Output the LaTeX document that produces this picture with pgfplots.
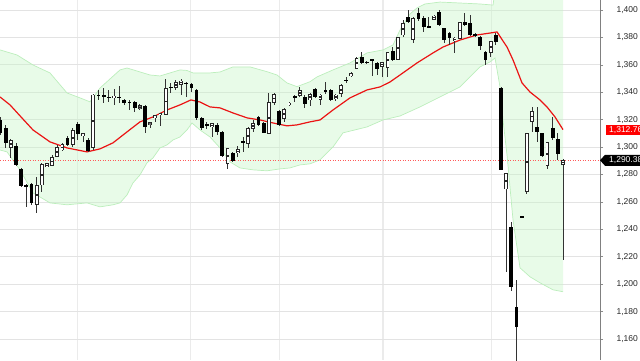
\documentclass[border=0pt]{standalone}
\usepackage{fontspec}
\setmainfont{Liberation Sans}
\usepackage{pgfplots}
\usepackage{pgfplotstable}
\pgfplotsset{compat=1.18}
\usepgfplotslibrary{fillbetween}

\definecolor{bandfill}{RGB}{200,245,200}
\definecolor{bandline}{RGB}{188,238,188}
\definecolor{maline}{RGB}{235,20,20}
\definecolor{lastline}{RGB}{255,90,90}

% black (falling) candles: index, open, high, low, close
\pgfplotstableread{
i o h l c
0 1319.8 1322.0 1308.9 1310.6
1 1313.8 1316.2 1299.2 1302.8
3 1300.9 1302.8 1286.3 1287.0
4 1283.9 1284.6 1271.2 1271.7
5 1272.4 1273.0 1256.6 1271.0
6 1273.2 1273.6 1257.9 1259.1
13 1306.5 1308.2 1300.5 1301.6
15 1316.9 1318.6 1305.2 1309.6
17 1305.2 1306.5 1296.7 1297.5
19 1338.2 1341.7 1334.4 1337.5
20 1338.0 1342.9 1332.0 1336.8
21 1336.7 1341.7 1333.2 1336.0
23 1336.8 1344.6 1332.0 1336.1
24 1334.4 1334.9 1330.8 1332.0
25 1333.2 1334.4 1327.1 1332.0
26 1333.2 1333.7 1325.9 1328.4
28 1330.0 1330.4 1310.1 1314.9
33 1344.1 1346.6 1339.3 1342.9
36 1347.0 1347.7 1336.8 1345.9
37 1345.9 1346.6 1340.5 1343.4
38 1341.7 1342.2 1319.8 1321.1
39 1321.3 1321.7 1312.5 1313.6
40 1316.9 1318.6 1313.0 1315.7
42 1316.2 1317.4 1308.9 1311.3
43 1311.3 1311.4 1293.1 1293.6
45 1296.0 1296.2 1289.4 1289.9
47 1304.4 1307.6 1296.7 1303.7
50 1321.8 1322.7 1315.5 1316.2
51 1317.9 1318.6 1310.1 1310.1
54 1326.6 1327.1 1315.5 1316.0
57 1337.2 1338.0 1333.2 1336.5
59 1336.8 1338.0 1328.4 1331.5
61 1342.2 1342.9 1335.6 1336.4
63 1341.3 1347.7 1338.8 1340.6
64 1341.7 1342.2 1333.9 1334.4
67 1349.3 1350.9 1347.0 1348.6
70 1366.0 1369.2 1360.4 1361.2
71 1362.3 1362.8 1360.6 1361.2
72 1364.2 1364.4 1351.9 1363.5
73 1361.2 1362.3 1352.6 1357.0
76 1370.1 1373.3 1363.1 1363.6
79 1395.1 1400.0 1390.8 1391.5
81 1397.6 1401.2 1392.2 1393.2
82 1393.9 1395.6 1384.2 1387.4
83 1388.2 1394.7 1386.7 1387.5
85 1398.8 1400.0 1388.3 1389.1
86 1386.7 1386.9 1375.7 1378.1
87 1383.0 1384.2 1374.5 1379.4
90 1391.5 1397.6 1388.3 1389.1
91 1390.3 1396.4 1381.0 1381.8
92 1382.3 1383.0 1380.5 1381.0
93 1380.5 1381.0 1370.9 1373.8
94 1369.6 1370.1 1359.9 1363.6
96 1381.8 1383.5 1374.5 1376.9
97 1343.1 1343.5 1283.0 1283.4
99 1242.0 1245.7 1194.7 1198.3
100 1183.7 1203.2 1140.0 1169.1
101 1249.4 1249.5 1248.8 1248.9
104 1314.9 1329.5 1304.0 1311.3
105 1310.1 1310.6 1293.1 1293.6
107 1313.8 1321.8 1305.2 1306.5
108 1306.0 1310.1 1290.7 1294.8
}\downc

% white (rising) candles: index, open, high, low, close
\pgfplotstableread{
i o h l c
2 1299.9 1305.8 1291.9 1304.5
7 1258.4 1278.5 1251.8 1272.2
8 1272.4 1288.3 1267.6 1287.0
9 1285.8 1288.7 1285.3 1287.8
10 1286.5 1294.3 1286.0 1292.6
11 1293.1 1301.6 1292.5 1300.0
12 1297.9 1303.1 1297.2 1301.6
14 1301.6 1313.8 1300.4 1312.0
16 1308.4 1310.6 1304.0 1310.1
18 1299.9 1338.4 1297.9 1338.0
22 1336.2 1342.2 1330.8 1337.1
27 1328.4 1331.3 1327.1 1330.3
29 1316.2 1318.6 1313.8 1318.1
30 1321.5 1323.5 1318.6 1322.7
31 1323.5 1324.7 1315.5 1324.2
32 1323.5 1349.5 1323.1 1342.9
34 1343.7 1349.0 1341.7 1347.0
35 1345.9 1349.5 1338.0 1348.2
41 1314.9 1317.4 1307.6 1316.9
44 1288.3 1299.2 1283.9 1298.7
46 1296.3 1300.9 1293.1 1298.5
48 1302.8 1314.5 1299.2 1313.8
49 1313.8 1319.8 1311.3 1317.4
52 1310.1 1339.3 1310.0 1332.4
53 1332.4 1339.3 1330.8 1338.5
55 1321.1 1328.4 1318.6 1327.6
56 1330.8 1332.9 1330.3 1332.0
58 1337.5 1344.1 1336.8 1341.3
60 1334.4 1339.3 1330.0 1338.6
62 1334.9 1338.6 1330.8 1338.0
65 1335.1 1338.6 1333.9 1338.0
66 1338.8 1345.9 1336.8 1344.8
68 1351.9 1355.0 1351.4 1353.9
69 1357.5 1365.5 1356.8 1364.8
74 1358.7 1362.3 1351.4 1361.9
75 1358.0 1369.6 1350.9 1368.9
77 1364.1 1380.5 1363.6 1380.1
78 1381.8 1392.4 1380.0 1390.3
80 1378.6 1395.1 1376.2 1393.9
84 1393.4 1396.4 1393.2 1395.6
88 1378.1 1380.5 1368.4 1379.4
89 1379.4 1391.5 1378.6 1390.8
95 1369.2 1377.6 1366.0 1376.9
98 1269.5 1281.2 1209.0 1281.0
102 1267.6 1310.6 1265.9 1310.1
103 1318.6 1329.1 1311.3 1325.9
106 1286.3 1304.0 1283.9 1303.3
109 1287.5 1291.2 1217.3 1290.38
}\upc

\pgfplotstableread{
x y
-0.10 1370.9
3.20 1367.2
6.30 1359.9
9.59 1354.1
12.89 1339.5
15.41 1335.9
17.34 1333.0
19.28 1343.1
21.22 1349.7
23.16 1356.3
24.52 1357.7
26.45 1355.5
28.97 1352.6
30.91 1351.9
32.85 1354.1
34.79 1356.3
36.14 1355.9
37.31 1354.1
40.60 1354.1
42.54 1354.8
45.06 1358.5
48.35 1358.5
51.65 1355.0
53.59 1352.6
55.52 1346.8
57.46 1344.1
59.98 1347.7
61.34 1351.2
64.44 1356.3
67.73 1361.4
71.03 1368.7
74.13 1370.9
76.07 1374.5
77.42 1385.4
78.39 1391.3
79.36 1397.1
80.72 1401.5
82.27 1404.4
85.17 1405.8
89.05 1405.1
92.93 1404.4
95.45 1403.6
96.22 1425.0
96.80 1445.0
109.01 1445.0
}\bandup

\pgfplotstableread{
x y
-0.10 1297.9
1.26 1296.5
3.78 1283.4
6.30 1266.6
9.59 1259.3
12.89 1257.9
16.76 1259.3
19.28 1256.4
21.80 1257.9
23.16 1259.3
24.52 1265.1
25.68 1273.9
27.03 1279.7
28.39 1288.5
29.55 1292.1
30.91 1299.4
32.27 1301.6
33.43 1305.2
34.79 1307.4
36.14 1312.5
37.11 1317.6
38.66 1312.5
40.60 1307.4
42.54 1299.4
44.48 1289.2
46.41 1284.8
48.93 1283.4
51.65 1282.7
54.17 1284.1
56.10 1284.8
58.04 1287.0
59.98 1287.8
61.92 1290.7
64.44 1300.1
66.38 1310.4
71.03 1314.7
74.13 1319.8
77.42 1322.7
81.30 1329.3
85.17 1336.6
89.05 1343.9
92.93 1358.5
94.86 1362.1
95.83 1365.0
96.80 1343.9
97.38 1319.8
98.16 1294.3
99.32 1246.9
100.68 1211.9
102.61 1205.4
104.55 1201.0
107.07 1195.9
109.01 1194.5
}\bandlo

\pgfplotstableread{
x y
-0.10 1336.6
1.84 1330.8
3.78 1322.8
6.30 1312.5
9.59 1303.8
12.89 1299.4
16.76 1296.5
19.28 1298.7
21.80 1303.1
24.52 1311.1
27.03 1318.4
29.55 1322.0
32.27 1327.1
34.79 1330.8
36.90 1334.4
38.66 1332.9
40.60 1329.3
42.54 1328.6
45.06 1324.9
47.80 1321.3
50.29 1319.8
52.81 1317.6
55.52 1315.5
57.46 1316.2
59.98 1318.4
61.92 1319.8
64.44 1327.1
67.73 1335.9
71.03 1341.7
73.55 1343.9
75.48 1347.5
77.42 1352.6
80.72 1361.4
83.82 1368.7
85.76 1373.0
89.05 1378.1
92.34 1381.8
94.86 1383.2
96.22 1384.0
98.16 1373.0
99.32 1363.6
101.07 1346.8
102.61 1340.2
104.55 1334.4
105.91 1329.3
107.46 1322.0
109.01 1312.76
}\madata

\begin{document}
\begin{tikzpicture}
\begin{axis}[
  name=ax,
  scale only axis,
  width=600pt, height=360pt,
  xmin=-0.097, xmax=116.18,
  ymin=1144.7, ymax=1407.3,
  axis line style={draw=none},
  xtick={14.87,36.86,54.03,74.13,95.2},
  xticklabels={},
  x tick style={draw=none},
  ytick={1160,1180,...,1400},
  ytick pos=right,
  yticklabel pos=right,
  tick align=outside,
  major tick length=3pt,
  y tick style={black!45, line width=0.6pt},
  xmajorgrids, ymajorgrids,
  y grid style={black!11, line width=0.7pt},
  x grid style={black!8, line width=1.1pt},
  yticklabel style={font=\fontsize{8.5}{10}\selectfont, text=black!85, xshift=10pt},
  /pgf/number format/1000 sep={,},
  /pgf/number format/assume math mode=true,
]
% Bollinger band
\addplot[name path=bu, draw=none] table[x=x,y=y] {\bandup};
\addplot[name path=bl, draw=none] table[x=x,y=y] {\bandlo};
\addplot[bandfill, fill opacity=0.42, draw=none] fill between[of=bu and bl];
\addplot[bandline, line width=0.7pt] table[x=x,y=y] {\bandup};
\addplot[bandline, line width=0.7pt] table[x=x,y=y] {\bandlo};
% last price line
\addplot[lastline, line width=0.7pt, dash pattern=on 1pt off 1.5pt] coordinates {(-0.097,1290.38) (116.18,1290.38)};
% moving average
\addplot[maline, line width=1.2pt] table[x=x,y=y] {\madata};
% wicks
\addplot[draw=none, error bars/.cd, y dir=both, y explicit, error mark=none,
  error bar style={draw=black!80, line width=0.9pt}]
  table[x=i, y expr={(\thisrow{h}+\thisrow{l})/2},
        y error plus expr={(\thisrow{h}-\thisrow{l})/2},
        y error minus expr={(\thisrow{h}-\thisrow{l})/2}] {\downc};
\addplot[draw=none, error bars/.cd, y dir=both, y explicit, error mark=none,
  error bar style={draw=black!80, line width=0.9pt}]
  table[x=i, y expr={(\thisrow{h}+\thisrow{l})/2},
        y error plus expr={(\thisrow{h}-\thisrow{l})/2},
        y error minus expr={(\thisrow{h}-\thisrow{l})/2}] {\upc};
% black bodies
\addplot[draw=none, error bars/.cd, y dir=both, y explicit, error mark=none,
  error bar style={draw=black, line width=3.8pt}]
  table[x=i, y expr={(\thisrow{o}+\thisrow{c})/2},
        y error plus expr={(\thisrow{o}-\thisrow{c})/2},
        y error minus expr={(\thisrow{o}-\thisrow{c})/2}] {\downc};
% white bodies (outline then fill)
\addplot[draw=none, error bars/.cd, y dir=both, y explicit, error mark=none,
  error bar style={draw=black!85, line width=3.8pt}]
  table[x=i, y expr={(\thisrow{o}+\thisrow{c})/2},
        y error plus expr={(\thisrow{c}-\thisrow{o})/2+0.35},
        y error minus expr={(\thisrow{c}-\thisrow{o})/2+0.35}] {\upc};
\addplot[draw=none, error bars/.cd, y dir=both, y explicit, error mark=none,
  error bar style={draw=white, line width=2.0pt, shorten <=0.9pt, shorten >=0.9pt}]
  table[x=i, y expr={(\thisrow{o}+\thisrow{c})/2},
        y error plus expr={(\thisrow{c}-\thisrow{o})/2+0.35},
        y error minus expr={(\thisrow{c}-\thisrow{o})/2+0.35}] {\upc};
\coordinate (ma) at (axis cs:116.18,1312.76);
\coordinate (lc) at (axis cs:116.18,1290.38);
\end{axis}
\draw[black!50, line width=0.8pt] (ax.south east) -- (ax.north east);
\node[fill=red, text=white, anchor=west, inner xsep=3.5pt, inner ysep=0pt,
  minimum height=10.2pt, font=\fontsize{8.5}{10}\selectfont] at ([xshift=5.5pt]ma) {1,312.76};
\fill[black] (lc) -- ++(5pt,5.5pt) -- ++(45pt,0) -- ++(0,-11pt) -- ++(-45pt,0) -- cycle;
\node[text=white, anchor=west, inner sep=0pt, font=\fontsize{8.5}{10}\selectfont] at ([xshift=9pt]lc) {1,290.38};
\pgfresetboundingbox
\path[use as bounding box] (ax.south west) rectangle ([xshift=40pt]ax.north east);
\end{tikzpicture}
\end{document}
